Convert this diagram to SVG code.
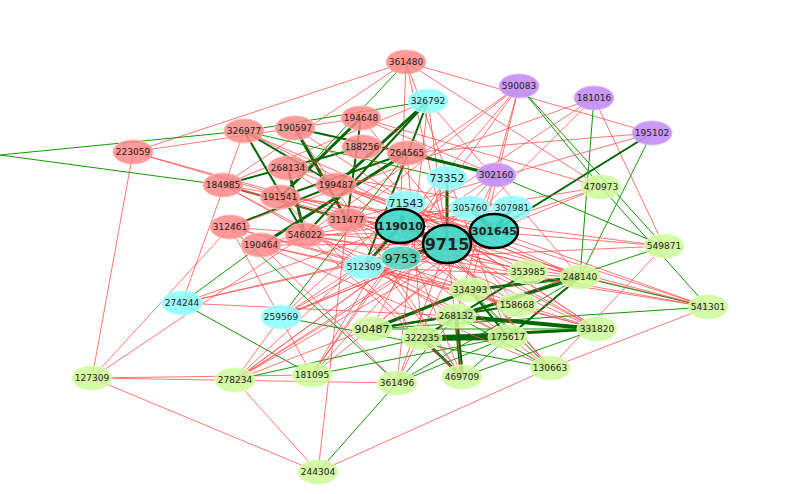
<svg xmlns="http://www.w3.org/2000/svg" width="800" height="494" viewBox="0 0 800 494">
<style>
.r{stroke:#f55;stroke-width:1;opacity:.8}
.g{stroke:#190;stroke-width:1}
.G{stroke:#060;stroke-width:3}
.nr{fill:#f88;stroke:#fbb;stroke-width:1;fill-opacity:.85}
.nc{fill:#8ff;stroke:#bff;fill-opacity:.85}
.np{fill:#c48ef5;stroke:#dbf;fill-opacity:.9}
.ng{fill:#ccfa98;stroke:#dfb;fill-opacity:.85}
.nt{fill:#3ddccb;stroke:#000;stroke-width:2.5;fill-opacity:.9}
text{font-family:"DejaVu Sans",sans-serif;font-size:9px;text-anchor:middle;dominant-baseline:central;fill:#222}
.b{font-weight:bold;font-size:11px}
</style>
<rect width="800" height="494" fill="#fff"/>
<g id="connectors">
<line class="r" x1="406" y1="62" x2="133" y2="152"/><line class="r" x1="406" y1="62" x2="652" y2="133"/>
<line class="r" x1="406" y1="62" x2="447" y2="244"/><line class="r" x1="406" y1="62" x2="223" y2="185"/>
<line class="r" x1="406" y1="62" x2="601" y2="187"/><line class="r" x1="406" y1="62" x2="400" y2="226"/>
<line class="g" x1="406" y1="62" x2="280" y2="197"/><line class="r" x1="406" y1="62" x2="508" y2="337"/>
<line class="r" x1="133" y1="152" x2="92" y2="378"/><line class="r" x1="133" y1="152" x2="361" y2="118"/>
<line class="r" x1="133" y1="152" x2="447" y2="244"/><line class="r" x1="133" y1="152" x2="400" y2="226"/>
<line class="r" x1="92" y1="378" x2="318" y2="472"/><line class="r" x1="92" y1="378" x2="397" y2="383"/>
<line class="r" x1="92" y1="378" x2="230" y2="227"/><line class="r" x1="92" y1="378" x2="305" y2="235"/>
<line class="r" x1="92" y1="378" x2="312" y2="375"/>
<line class="r" x1="318" y1="472" x2="235" y2="380"/><line class="r" x1="318" y1="472" x2="550" y2="368"/>
<line class="g" x1="318" y1="472" x2="456" y2="316"/><line class="r" x1="318" y1="472" x2="347" y2="220"/>
<line class="r" x1="708" y1="307" x2="447" y2="244"/><line class="r" x1="708" y1="307" x2="494" y2="231"/>
<line class="g" x1="708" y1="307" x2="372" y2="329"/><line class="g" x1="708" y1="307" x2="580" y2="277"/>
<line class="r" x1="708" y1="307" x2="550" y2="368"/><line class="g" x1="708" y1="307" x2="601" y2="187"/>
<line class="g" x1="664" y1="246" x2="496" y2="175"/><line class="r" x1="664" y1="246" x2="550" y2="368"/>
<line class="g" x1="664" y1="246" x2="456" y2="316"/><line class="r" x1="664" y1="246" x2="594" y2="98"/>
<line class="G" x1="652" y1="133" x2="494" y2="231" style="stroke-width:2"/><line class="g" x1="652" y1="133" x2="580" y2="277"/>
<line class="r" x1="652" y1="133" x2="407" y2="153"/><line class="r" x1="594" y1="98" x2="447" y2="244"/>
<line class="r" x1="594" y1="98" x2="400" y2="226"/><line class="g" x1="594" y1="98" x2="580" y2="277"/>
<line class="r" x1="519" y1="86" x2="347" y2="220"/><line class="r" x1="519" y1="86" x2="456" y2="316"/>
<line class="g" x1="519" y1="86" x2="601" y2="187"/><line class="r" x1="519" y1="86" x2="470" y2="290"/>
<line class="r" x1="519" y1="86" x2="364" y2="267"/><line class="g" x1="519" y1="86" x2="664" y2="246"/>
<line class="r" x1="428" y1="101" x2="447" y2="244"/><line class="G" x1="428" y1="101" x2="336" y2="185"/>
<line class="G" x1="428" y1="101" x2="305" y2="235" style="stroke-width:2"/><line class="r" x1="428" y1="101" x2="580" y2="277"/>
<line class="r" x1="428" y1="101" x2="223" y2="185"/><line class="g" x1="428" y1="101" x2="244" y2="131"/>
<line class="r" x1="182" y1="303" x2="447" y2="244"/><line class="r" x1="182" y1="303" x2="400" y2="226"/>
<line class="g" x1="182" y1="303" x2="312" y2="375"/><line class="r" x1="182" y1="303" x2="456" y2="316"/>
<line class="g" x1="182" y1="303" x2="261" y2="245"/><line class="r" x1="182" y1="303" x2="244" y2="131"/>
<line class="r" x1="281" y1="317" x2="494" y2="231"/><line class="g" x1="281" y1="317" x2="550" y2="368"/>
<line class="r" x1="281" y1="317" x2="235" y2="380"/><line class="r" x1="281" y1="317" x2="447" y2="244"/>
<line class="g" x1="281" y1="317" x2="407" y2="153"/><line class="r" x1="235" y1="380" x2="447" y2="244"/>
<line class="r" x1="235" y1="380" x2="400" y2="226"/><line class="g" x1="235" y1="380" x2="422" y2="338"/>
<line class="r" x1="235" y1="380" x2="470" y2="290"/><line class="r" x1="312" y1="375" x2="494" y2="231"/>
<line class="g" x1="312" y1="375" x2="508" y2="337"/><line class="r" x1="312" y1="375" x2="400" y2="226"/>
<line class="g" x1="397" y1="383" x2="580" y2="277"/><line class="g" x1="397" y1="383" x2="508" y2="337"/>
<line class="r" x1="397" y1="383" x2="447" y2="244"/><line class="g" x1="397" y1="383" x2="230" y2="227"/>
<line class="G" x1="462" y1="377" x2="456" y2="316" style="stroke-width:4"/><line class="G" x1="462" y1="377" x2="422" y2="338"/>
<line class="g" x1="462" y1="377" x2="580" y2="277"/><line class="g" x1="462" y1="377" x2="597" y2="329"/>
<line class="r" x1="462" y1="377" x2="447" y2="244"/><line class="g" x1="550" y1="368" x2="456" y2="316"/>
<line class="g" x1="550" y1="368" x2="470" y2="290"/><line class="r" x1="550" y1="368" x2="400" y2="226"/>
<line class="G" x1="597" y1="329" x2="456" y2="316" style="stroke-width:4"/><line class="G" x1="597" y1="329" x2="422" y2="338"/>
<line class="g" x1="597" y1="329" x2="372" y2="329"/><line class="r" x1="597" y1="329" x2="447" y2="244"/>
<line class="G" x1="422" y1="338" x2="508" y2="337" style="stroke-width:6"/><line class="G" x1="372" y1="329" x2="470" y2="290"/>
<line class="G" x1="372" y1="329" x2="456" y2="316" style="stroke-width:2"/><line class="G" x1="580" y1="277" x2="470" y2="290"/>
<line class="G" x1="580" y1="277" x2="456" y2="316"/><line class="G" x1="528" y1="272" x2="422" y2="338" style="stroke-width:2"/>
<line class="G" x1="517" y1="305" x2="372" y2="329" style="stroke-width:2"/><line class="G" x1="470" y1="290" x2="508" y2="337" style="stroke-width:2"/>
<line class="G" x1="580" y1="277" x2="508" y2="337" style="stroke-width:2"/>
<line class="G" x1="244" y1="131" x2="336" y2="185" style="stroke-width:2"/><line class="G" x1="295" y1="128" x2="347" y2="220"/>
<line class="G" x1="223" y1="185" x2="347" y2="220" style="stroke-width:2"/><line class="G" x1="361" y1="118" x2="280" y2="197"/>
<line class="G" x1="407" y1="153" x2="261" y2="245"/><line class="G" x1="407" y1="153" x2="295" y2="128" style="stroke-width:2"/>
<line class="G" x1="362" y1="147" x2="223" y2="185" style="stroke-width:2"/><line class="G" x1="288" y1="168" x2="305" y2="235"/>
<line class="G" x1="244" y1="131" x2="305" y2="235" style="stroke-width:2"/><line class="G" x1="230" y1="227" x2="336" y2="185" style="stroke-width:2"/>
<line class="G" x1="361" y1="118" x2="347" y2="220" style="stroke-width:2"/><line class="G" x1="280" y1="197" x2="407" y2="153" style="stroke-width:2"/>
<line class="G" x1="407" y1="153" x2="496" y2="175"/><line class="g" x1="244" y1="131" x2="447" y2="178"/>
<line class="G" x1="400" y1="226" x2="447" y2="244" style="stroke-width:4"/><line class="G" x1="494" y1="231" x2="447" y2="244" style="stroke-width:4"/>
<line class="G" x1="401" y1="258" x2="447" y2="244" style="stroke-width:4"/><line class="G" x1="406" y1="203" x2="400" y2="226" style="stroke-width:4"/>
<line class="G" x1="470" y1="208" x2="494" y2="231" style="stroke-width:4"/><line class="G" x1="512" y1="208" x2="494" y2="231" style="stroke-width:4"/>
<line class="G" x1="447" y1="178" x2="447" y2="244"/><line class="G" x1="364" y1="267" x2="447" y2="244" style="stroke-width:2"/>
<line class="G" x1="364" y1="267" x2="400" y2="226" style="stroke-width:3"/><line class="G" x1="364" y1="267" x2="428" y2="101" style="stroke-width:2"/>
<line class="g" x1="0" y1="155" x2="223" y2="185"/><line class="g" x1="0" y1="155" x2="244" y2="131"/>
<line class="r" x1="223" y1="185" x2="580" y2="277"/><line class="r" x1="230" y1="227" x2="597" y2="329"/>
<line class="r" x1="261" y1="245" x2="550" y2="368"/><line class="r" x1="295" y1="128" x2="462" y2="377"/>
<line class="r" x1="244" y1="131" x2="528" y2="272"/><line class="r" x1="223" y1="185" x2="508" y2="337"/>
<line class="r" x1="336" y1="185" x2="580" y2="277"/><line class="r" x1="347" y1="220" x2="664" y2="246"/>
<line class="r" x1="305" y1="235" x2="708" y2="307"/><line class="r" x1="305" y1="235" x2="597" y2="329"/>
<line class="r" x1="261" y1="245" x2="517" y2="305"/><line class="r" x1="288" y1="168" x2="470" y2="290"/>
<line class="r" x1="362" y1="147" x2="550" y2="368"/><line class="r" x1="280" y1="197" x2="462" y2="377"/>
<line class="r" x1="230" y1="227" x2="470" y2="290"/><line class="r" x1="223" y1="185" x2="456" y2="316"/>
<line class="r" x1="407" y1="153" x2="422" y2="338"/><line class="r" x1="447" y1="178" x2="372" y2="329"/>
<line class="r" x1="496" y1="175" x2="312" y2="375"/><line class="r" x1="496" y1="175" x2="397" y2="383"/>
<line class="r" x1="601" y1="187" x2="305" y2="235"/><line class="r" x1="601" y1="187" x2="364" y2="267"/>
<line class="r" x1="494" y1="231" x2="235" y2="380"/><line class="r" x1="470" y1="208" x2="281" y2="317"/>
<line class="r" x1="512" y1="208" x2="261" y2="245"/><line class="r" x1="400" y1="226" x2="708" y2="307"/>
<line class="r" x1="406" y1="203" x2="597" y2="329"/><line class="r" x1="401" y1="258" x2="664" y2="246"/>
<line class="r" x1="447" y1="244" x2="230" y2="227"/><line class="r" x1="447" y1="244" x2="261" y2="245"/>
<line class="r" x1="494" y1="231" x2="223" y2="185"/><line class="r" x1="494" y1="231" x2="305" y2="235"/>
<line class="r" x1="447" y1="244" x2="550" y2="368"/><line class="r" x1="400" y1="226" x2="597" y2="329"/>
<line class="r" x1="361" y1="118" x2="496" y2="175"/><line class="r" x1="361" y1="118" x2="601" y2="187"/>
<line class="r" x1="336" y1="185" x2="494" y2="231"/><line class="r" x1="347" y1="220" x2="470" y2="208"/>
<line class="r" x1="288" y1="168" x2="512" y2="208"/><line class="r" x1="364" y1="267" x2="580" y2="277"/>
<line class="r" x1="364" y1="267" x2="508" y2="337"/><line class="r" x1="401" y1="258" x2="550" y2="368"/>
<line class="r" x1="401" y1="258" x2="235" y2="380"/><line class="r" x1="406" y1="203" x2="281" y2="317"/>
<line class="r" x1="347" y1="220" x2="462" y2="377"/><line class="r" x1="305" y1="235" x2="462" y2="377"/>
<line class="r" x1="261" y1="245" x2="397" y2="383"/><line class="r" x1="230" y1="227" x2="312" y2="375"/>
<line class="r" x1="244" y1="131" x2="580" y2="277"/><line class="r" x1="295" y1="128" x2="597" y2="329"/>
<line class="r" x1="361" y1="118" x2="517" y2="305"/><line class="r" x1="288" y1="168" x2="580" y2="277"/>
<line class="r" x1="336" y1="185" x2="708" y2="307"/><line class="r" x1="223" y1="185" x2="528" y2="272"/>
<line class="r" x1="280" y1="197" x2="664" y2="246"/><line class="r" x1="312" y1="375" x2="519" y2="86"/>
<line class="r" x1="235" y1="380" x2="512" y2="208"/><line class="r" x1="281" y1="317" x2="601" y2="187"/>
<line class="r" x1="261" y1="245" x2="652" y2="133"/><line class="r" x1="230" y1="227" x2="594" y2="98"/>
<line class="r" x1="305" y1="235" x2="519" y2="86"/><line class="r" x1="347" y1="220" x2="597" y2="329"/>
<line class="r" x1="406" y1="203" x2="550" y2="368"/><line class="r" x1="401" y1="258" x2="708" y2="307"/>
<line class="r" x1="364" y1="267" x2="597" y2="329"/><line class="r" x1="447" y1="178" x2="312" y2="375"/>
<line class="r" x1="470" y1="208" x2="235" y2="380"/><line class="r" x1="512" y1="208" x2="372" y2="329"/>
<line class="r" x1="494" y1="231" x2="182" y2="303"/><line class="r" x1="400" y1="226" x2="462" y2="377"/>
<line class="r" x1="428" y1="101" x2="397" y2="383"/><line class="r" x1="496" y1="175" x2="281" y2="317"/>
<line class="r" x1="580" y1="277" x2="305" y2="235"/><line class="r" x1="517" y1="305" x2="336" y2="185"/>
<line class="r" x1="470" y1="290" x2="261" y2="245"/><line class="r" x1="528" y1="272" x2="347" y2="220"/>
</g>
<g id="n361480"><ellipse class="nr" cx="406" cy="62" rx="20" ry="12"/><text x="406" y="62">361480</text></g>
<g id="n326792"><ellipse class="nc" cx="428" cy="101" rx="20" ry="12"/><text x="428" y="101">326792</text></g>
<g id="n590083"><ellipse class="np" cx="519" cy="86" rx="20" ry="12"/><text x="519" y="86">590083</text></g>
<g id="n181016"><ellipse class="np" cx="594" cy="98" rx="20" ry="12"/><text x="594" y="98">181016</text></g>
<g id="n195102"><ellipse class="np" cx="652" cy="133" rx="20" ry="12"/><text x="652" y="133">195102</text></g>
<g id="n223059"><ellipse class="nr" cx="133" cy="152" rx="20" ry="12"/><text x="133" y="152">223059</text></g>
<g id="n326977"><ellipse class="nr" cx="244" cy="131" rx="20" ry="12"/><text x="244" y="131">326977</text></g>
<g id="n190597"><ellipse class="nr" cx="295" cy="128" rx="20" ry="12"/><text x="295" y="128">190597</text></g>
<g id="n194648"><ellipse class="nr" cx="361" cy="118" rx="20" ry="12"/><text x="361" y="118">194648</text></g>
<g id="n188256"><ellipse class="nr" cx="362" cy="147" rx="20" ry="12"/><text x="362" y="147">188256</text></g>
<g id="n264565"><ellipse class="nr" cx="407" cy="153" rx="20" ry="12"/><text x="407" y="153">264565</text></g>
<g id="n268134"><ellipse class="nr" cx="288" cy="168" rx="20" ry="12"/><text x="288" y="168">268134</text></g>
<g id="n199487"><ellipse class="nr" cx="336" cy="185" rx="20" ry="12"/><text x="336" y="185">199487</text></g>
<g id="n184985"><ellipse class="nr" cx="223" cy="185" rx="20" ry="12"/><text x="223" y="185">184985</text></g>
<g id="n191541"><ellipse class="nr" cx="280" cy="197" rx="20" ry="12"/><text x="280" y="197">191541</text></g>
<g id="n73352"><ellipse class="nc" cx="447" cy="178" rx="20" ry="12"/><text x="447" y="178" style="font-size:11px">73352</text></g>
<g id="n302160"><ellipse class="np" cx="496" cy="175" rx="20" ry="12"/><text x="496" y="175">302160</text></g>
<g id="n470973"><ellipse class="ng" cx="601" cy="187" rx="20" ry="12"/><text x="601" y="187">470973</text></g>
<g id="n71543"><ellipse class="nc" cx="406" cy="203" rx="20" ry="12"/><text x="406" y="203" style="font-size:11px">71543</text></g>
<g id="n305760"><ellipse class="nc" cx="470" cy="208" rx="20" ry="12"/><text x="470" y="208">305760</text></g>
<g id="n307981"><ellipse class="nc" cx="512" cy="208" rx="20" ry="12"/><text x="512" y="208">307981</text></g>
<g id="n312461"><ellipse class="nr" cx="230" cy="227" rx="20" ry="12"/><text x="230" y="227">312461</text></g>
<g id="n311477"><ellipse class="nr" cx="347" cy="220" rx="20" ry="12"/><text x="347" y="220">311477</text></g>
<g id="n546022"><ellipse class="nr" cx="305" cy="235" rx="20" ry="12"/><text x="305" y="235">546022</text></g>
<g id="n190464"><ellipse class="nr" cx="261" cy="245" rx="20" ry="12"/><text x="261" y="245">190464</text></g>
<g id="n119010"><ellipse class="nt" cx="400" cy="226" rx="24" ry="17"/><text class="b" x="400" y="226">119010</text></g>
<g id="n301645"><ellipse class="nt" cx="494" cy="231" rx="24" ry="17"/><text class="b" x="494" y="231">301645</text></g>
<g id="n9715"><ellipse class="nt" cx="447" cy="244" rx="24" ry="19"/><text class="b" x="447" y="244" style="font-size:16px">9715</text></g>
<g id="n9753"><ellipse class="nc" cx="401" cy="258" rx="20" ry="12" style="fill:#4cd9c0"/><text x="401" y="258" style="font-size:13px">9753</text></g>
<g id="n512309"><ellipse class="nc" cx="364" cy="267" rx="20" ry="12"/><text x="364" y="267">512309</text></g>
<g id="n549871"><ellipse class="ng" cx="664" cy="246" rx="20" ry="12"/><text x="664" y="246">549871</text></g>
<g id="n353985"><ellipse class="ng" cx="528" cy="272" rx="20" ry="12"/><text x="528" y="272">353985</text></g>
<g id="n248140"><ellipse class="ng" cx="580" cy="277" rx="20" ry="12"/><text x="580" y="277">248140</text></g>
<g id="n334393"><ellipse class="ng" cx="470" cy="290" rx="20" ry="12"/><text x="470" y="290">334393</text></g>
<g id="n274244"><ellipse class="nc" cx="182" cy="303" rx="20" ry="12"/><text x="182" y="303">274244</text></g>
<g id="n158668"><ellipse class="ng" cx="517" cy="305" rx="20" ry="12"/><text x="517" y="305">158668</text></g>
<g id="n541301"><ellipse class="ng" cx="708" cy="307" rx="20" ry="12"/><text x="708" y="307">541301</text></g>
<g id="n259569"><ellipse class="nc" cx="281" cy="317" rx="20" ry="12"/><text x="281" y="317">259569</text></g>
<g id="n268132"><ellipse class="ng" cx="456" cy="316" rx="20" ry="12"/><text x="456" y="316">268132</text></g>
<g id="n90487"><ellipse class="ng" cx="372" cy="329" rx="20" ry="12"/><text x="372" y="329" style="font-size:11px">90487</text></g>
<g id="n331820"><ellipse class="ng" cx="597" cy="329" rx="20" ry="12"/><text x="597" y="329">331820</text></g>
<g id="n322235"><ellipse class="ng" cx="422" cy="338" rx="20" ry="12"/><text x="422" y="338">322235</text></g>
<g id="n175617"><ellipse class="ng" cx="508" cy="337" rx="20" ry="12"/><text x="508" y="337">175617</text></g>
<g id="n127309"><ellipse class="ng" cx="92" cy="378" rx="20" ry="12"/><text x="92" y="378">127309</text></g>
<g id="n278234"><ellipse class="ng" cx="235" cy="380" rx="20" ry="12"/><text x="235" y="380">278234</text></g>
<g id="n181095"><ellipse class="ng" cx="312" cy="375" rx="20" ry="12"/><text x="312" y="375">181095</text></g>
<g id="n361496"><ellipse class="ng" cx="397" cy="383" rx="20" ry="12"/><text x="397" y="383">361496</text></g>
<g id="n469709"><ellipse class="ng" cx="462" cy="377" rx="20" ry="12"/><text x="462" y="377">469709</text></g>
<g id="n130663"><ellipse class="ng" cx="550" cy="368" rx="20" ry="12"/><text x="550" y="368">130663</text></g>
<g id="n244304"><ellipse class="ng" cx="318" cy="472" rx="20" ry="12"/><text x="318" y="472">244304</text></g>
</svg>
